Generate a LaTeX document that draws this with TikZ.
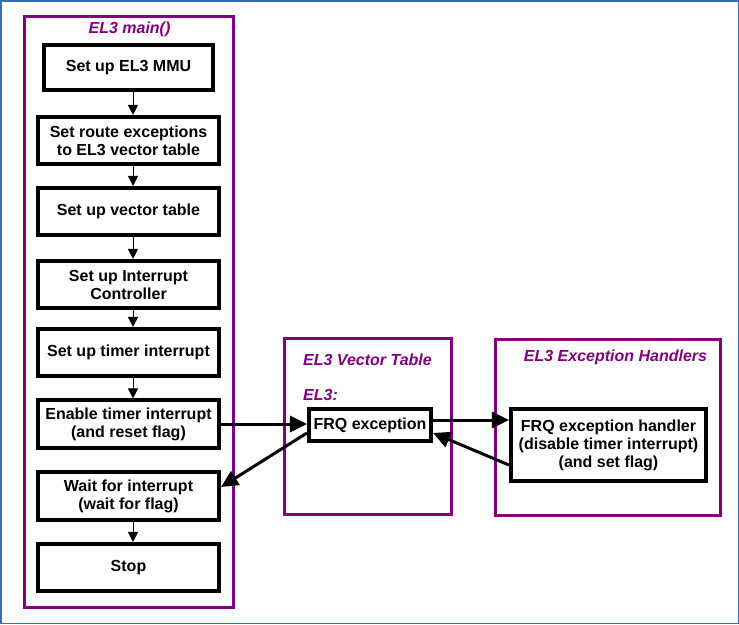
\documentclass[tikz,border=0pt]{standalone}
\usepackage{fontspec}
\setmainfont{Liberation Sans}
\usepackage{tikz}
\usetikzlibrary{arrows.meta, positioning, calc}
\definecolor{elpurple}{RGB}{128,0,128}
\definecolor{elblue}{RGB}{54,110,185}

\tikzset{
  stepbox/.style={draw, line width=3.6pt, align=center, inner sep=0pt,
    minimum width=181.5pt, minimum height=47.5pt},
  frame/.style={draw=elpurple, line width=3.2pt},
  title/.style={text=elpurple, font=\bfseries\itshape\fontsize{16}{18}\selectfont, inner sep=0pt},
  flow/.style={-{Triangle[length=10pt,width=10pt]}, line width=1pt},
  jump/.style={-{Triangle[length=17pt,width=16pt]}, line width=3pt}
}

\begin{document}
\begin{tikzpicture}[x=1pt, y=-1pt, font=\bfseries\fontsize{16}{18}\selectfont]
\useasboundingbox (0,0) rectangle (739,624);
\draw[elblue, line width=1.5pt] (0.75,0.75) rectangle (738.25,623.25);

% EL3 main()
\draw[frame] (24.5,16.5) rectangle (233.5,607.5);
\node[title] (maintitle) at (129.5,29) {EL3 main()};
\node[stepbox, minimum width=169.5pt, minimum height=45.5pt] (mmu) at (128.5,67.5) {Set up EL3 MMU};
\node[stepbox] (route) at (128.5,140.5) {Set route exceptions\\to EL3 vector table};
\node[stepbox] (vec) at (128.5,211.5) {Set up vector table};
\node[stepbox] (gic) at (128.5,284.5) {Set up Interrupt\\Controller};
\node[stepbox] (timer) at (128.5,352.5) {Set up timer interrupt};
\node[stepbox] (enable) at (128.5,424) {Enable timer interrupt\\(and reset flag)};
\node[stepbox] (wait) at (128.5,496) {Wait for interrupt\\(wait for flag)};
\node[stepbox] (stop) at (128.5,567.5) {Stop};
\foreach \a/\b in {mmu/route, route/vec, vec/gic, gic/timer, timer/enable, wait/stop}
  \draw[flow] ([xshift=4.5pt]\a.south) -- ([xshift=4.5pt]\b.north);

% EL3 Vector Table
\draw[frame] (284.5,338.5) rectangle (451.5,514.5);
\node[title, anchor=west] (vectitle) at (303,360) {EL3 Vector Table};
\node[title, anchor=west] (el3) at (303,395) {EL3:};
\node[stepbox, minimum width=122.5pt, minimum height=32.5pt] (frq) at (370,425) {FRQ exception};

% EL3 Exception Handlers
\draw[frame] (495.5,339.5) rectangle (720.5,515.5);
\node[title] (handtitle) at (615.5,357) {EL3 Exception Handlers};
\node[stepbox, minimum width=195.5pt, minimum height=72.5pt] (handler) at (608.5,445)
  {FRQ exception handler\\(disable timer interrupt)\\(and set flag)};

% Exception path
\draw[jump] (enable.east) -- (enable.east -| frq.west);
\draw[jump] ([yshift=-8pt]frq.west) -- ([yshift=9pt]wait.east);
\draw[jump] ([yshift=5pt]frq.east) -- ([yshift=5pt]frq.east -| handler.west);
\draw[jump] ([yshift=-20pt]handler.west) -- ([yshift=-8pt]frq.east);
\end{tikzpicture}
\end{document}
